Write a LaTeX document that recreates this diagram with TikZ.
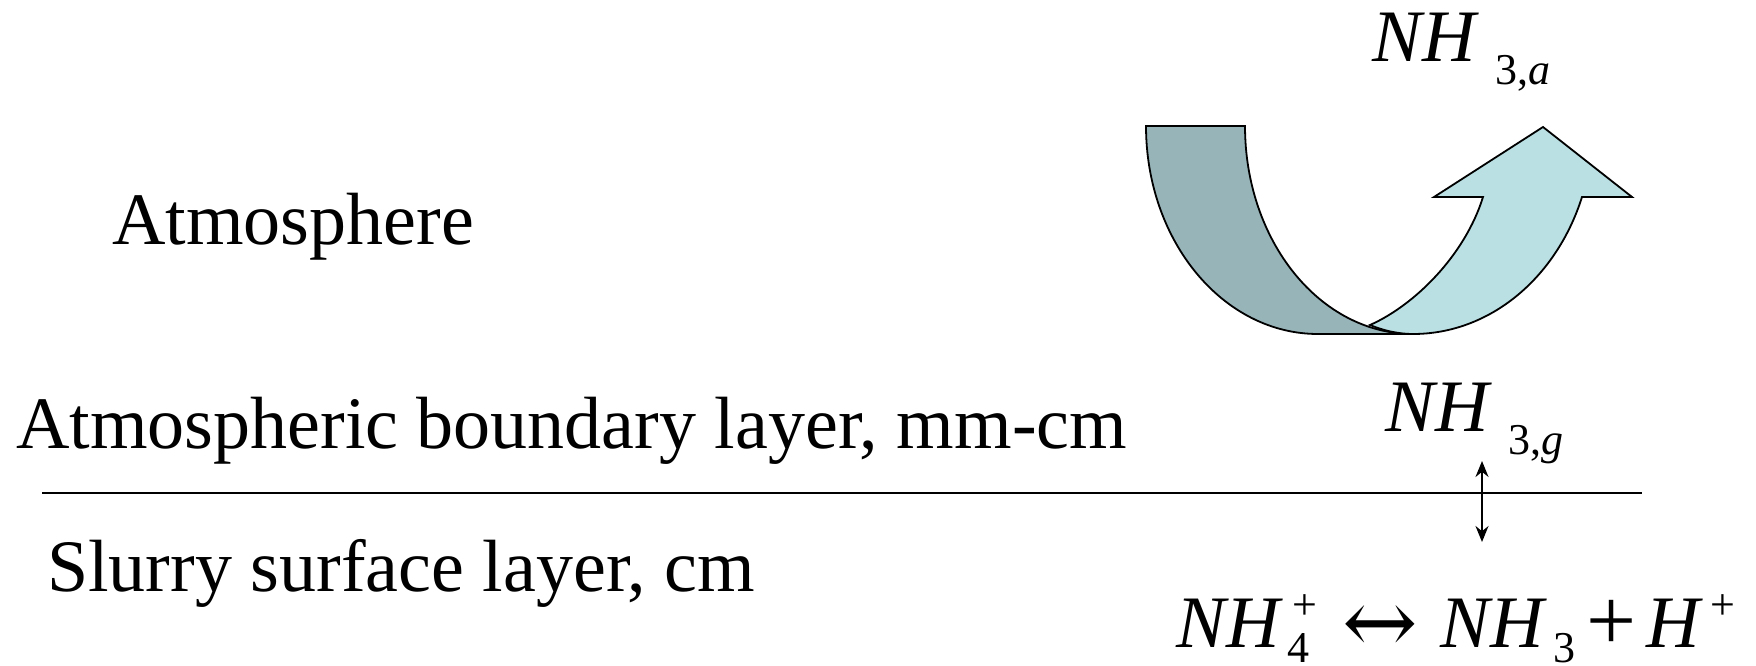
\documentclass[tikz,border=0pt]{standalone}
\usepackage{fontspec}
\newfontfamily\tnr{Liberation Serif}
\newfontfamily\tnri{Liberation Serif Italic}
\newfontfamily\dvs{DejaVu Serif}
\usetikzlibrary{arrows.meta}
\newcommand\placeat[2]{\rlap{\kern#1pt #2}}
\newcommand\subx[1]{\scalebox{0.595}{#1}}
\begin{document}
\begin{tikzpicture}[x=1pt,y=-1pt,
  lyrtext/.style={anchor=base west,inner sep=0pt},
  formula/.style={anchor=base west,inner sep=0pt},
  band/.style={draw=black,line width=1.8pt,line join=miter},
  rule/.style={line width=2pt},
  exch/.style={line width=2pt,{Stealth[length=16pt,width=13pt]}-{Stealth[length=16pt,width=13pt]}}]
\useasboundingbox (0,0) rectangle (1756,666);
\fill[white] (0,0) rectangle (1756,666);
% layer labels
\node[lyrtext] (atm) at (112,244) {\tnr\fontsize{74}{80}\selectfont Atmosphere};
\node[lyrtext] (abl) at (16,448) {\tnr\fontsize{74}{80}\selectfont Atmospheric boundary layer, mm-cm};
\node[lyrtext] (ssl) at (47,591) {\tnr\fontsize{74}{80}\selectfont Slurry surface layer, cm};
% interface line
\coordinate (l1) at (42,493);
\coordinate (l2) at (1642,493);
\draw[rule] (l1) -- (l2);
% curved arrow: back band
\draw[band,fill={rgb,255:red,151;green,180;blue,184}] (1146,126) -- (1245,126)
  .. controls (1245,241) and (1320,334) .. (1413,334)
  -- (1318,334)
  .. controls (1223,334) and (1146,241) .. (1146,126) -- cycle;
% curved arrow: front band with head
\draw[band,fill={rgb,255:red,186;green,224;blue,227}] (1370,325)
  .. controls (1415,305) and (1465,255) .. (1483,197)
  -- (1434,197) -- (1543,127) -- (1632,197) -- (1582,197)
  .. controls (1556,279) and (1489,334) .. (1413,334)
  .. controls (1397,334) and (1382,330) .. (1370,325) -- cycle;
% formulas
\node[formula] (nha) at (1372,62) {\tnr\fontsize{74}{80}\selectfont\placeat{0}{\tnri NH}\placeat{123}{\raisebox{-23pt}{\subx{3,{\tnri a}}}}};
\node[formula] (nhg) at (1385,431) {\tnr\fontsize{74}{80}\selectfont\placeat{0}{\tnri NH}\placeat{123}{\raisebox{-23pt}{\subx{3,{\tnri g}}}}};
\node[formula] (eq) at (1176,647) {\tnr\fontsize{74}{80}\selectfont\placeat{0}{\tnri NH}\placeat{111}{\raisebox{-15pt}{\subx{4}}}\placeat{116}{\raisebox{28pt}{\subx{+}}}\placeat{166}{\raisebox{-6pt}{\scalebox{1.22}{\dvs ↔}}}\placeat{264}{\tnri NH}\placeat{377}{\raisebox{-15pt}{\subx{3}}}\placeat{410}{\raisebox{-3pt}{\scalebox{1.2}{+}}}\placeat{470}{\tnri H}\placeat{534}{\raisebox{28pt}{\subx{+}}}};
% exchange arrow
\coordinate (ua) at (1482,461);
\coordinate (da) at (1482,542);
\draw[exch] (ua) -- (da);
\end{tikzpicture}
\end{document}
